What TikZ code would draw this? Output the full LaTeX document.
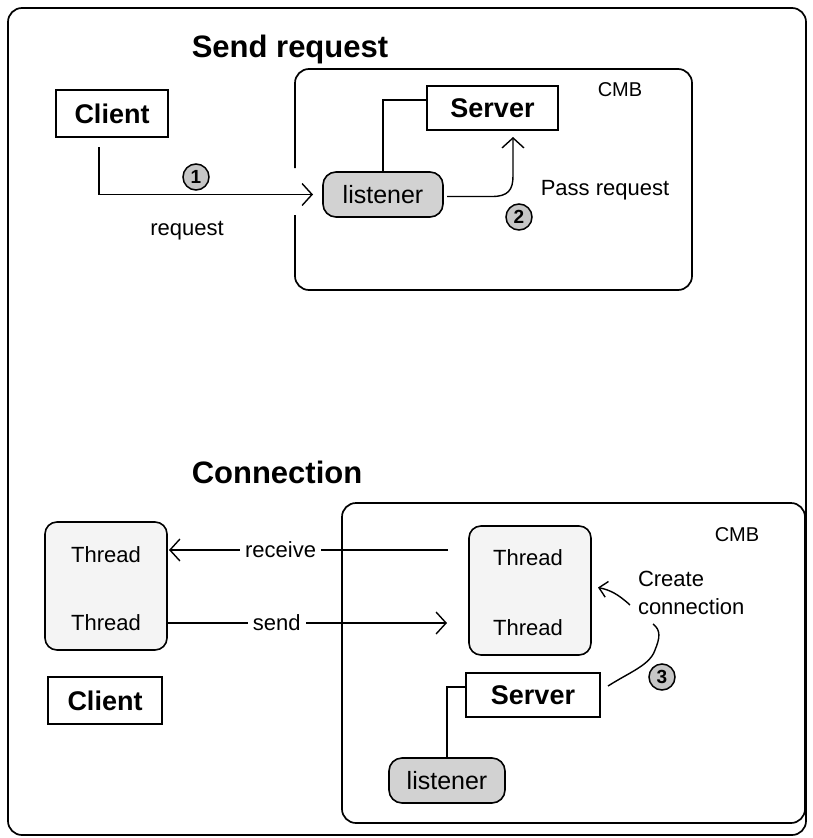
\documentclass[tikz,border=0pt]{standalone}
\usepackage{fontspec}
\setmainfont{Liberation Sans}
\usetikzlibrary{arrows.meta,calc}

\begin{document}
\begin{tikzpicture}[x=1pt,y=-1pt,
  every node/.style={inner sep=0pt, outer sep=0pt},
  frame/.style={line width=1.7pt, rounded corners=14pt},
  ttl/.style={font=\fontsize{31}{36}\selectfont\bfseries},
  namebox/.style={draw, line width=1.6pt, fill=white, font=\fontsize{27}{30}\selectfont\bfseries},
  pill/.style={draw, line width=1.6pt, fill=gray!35, rounded corners=13pt, font=\fontsize{25}{28}\selectfont},
  threadbox/.style={draw, line width=1.6pt, fill=gray!9, rounded corners=12pt},
  lbl/.style={font=\fontsize{22}{28}\selectfont},
  small/.style={font=\fontsize{20}{24}\selectfont},
  badge/.style={circle, draw, line width=1.5pt, fill=gray!45, minimum size=26pt, font=\fontsize{19}{19}\selectfont\bfseries},
  link/.style={line width=1.4pt},
  arr/.style={line width=1.4pt, -{Straight Barb[length=10pt,width=22pt,line width=1.4pt]}},
  sarr/.style={line width=1.4pt, -{Straight Barb[length=8pt,width=16pt,line width=1.4pt]}}
]
\useasboundingbox (0,0) rectangle (813,838);

% outer frame
\draw[frame] (8,8) rectangle (806,835);

% ---------- Send request ----------
\node[ttl, anchor=base] (t1) at (290,57) {Send request};

% CMB container, open on the left where the request enters
\draw[frame] (295,215) -- (295,290) -- (692,290) -- (692,69) -- (295,69) -- (295,168);
\node[small] (cmb1) at (620,90) {CMB};

\node[namebox, minimum width=112pt, minimum height=47pt] (client1) at (112,113.5) {Client};
\node[namebox, minimum width=131pt, minimum height=44pt] (server1) at (492.5,108) {Server};
\node[pill, minimum width=120pt, minimum height=45pt] (lis1) at (383,194.5) {listener};

\node[lbl] (req) at (187,231) {request};
\node[lbl] (pass) at (605,190) {Pass request};
\node[badge] (b1) at (196,177) {1};
\node[badge] (b2) at (519,217) {2};

\draw[link] ([yshift=8pt]server1.west) -| (lis1.north);
\draw[arr] ([xshift=-13pt,yshift=-10pt]client1.south) |- ([xshift=-10pt]lis1.west);
\draw[arr] ($(lis1.east)+(4,2)$) -- (492,196.5)
  .. controls (508,196.5) and (513,190) .. (513,176)
  -- ($(server1.south)+(20.5,7)$);

% ---------- Connection ----------
\node[ttl, anchor=base] (t2) at (277,483) {Connection};

\draw[frame] (342,503) rectangle (805,823);
\node[small] (cmb2) at (737,535) {CMB};

\node[threadbox, minimum width=122pt, minimum height=128pt] (thL) at (106,586) {};
\node[lbl] (thL1) at (106,555) {Thread};
\node[lbl] (thL2) at (106,623) {Thread};
\node[namebox, minimum width=114pt, minimum height=47pt] (client2) at (105,700.5) {Client};

\node[threadbox, minimum width=122pt, minimum height=129pt] (thR) at (530,590.5) {};
\node[lbl] (thR1) at (528,558) {Thread};
\node[lbl] (thR2) at (528,628) {Thread};

\node[namebox, minimum width=134pt, minimum height=44pt] (server2) at (533,695) {Server};
\node[pill, minimum width=116pt, minimum height=45pt] (lis2) at (447,780.5) {listener};

\node[lbl, align=left, anchor=west] (cc) at (638,593) {Create\\connection};
\node[badge] (b3) at (662,677) {3};

\coordinate (rcv) at (0,550);
\coordinate (snd) at (0,623);
\coordinate (ccfoot) at (653,624);

\draw[arr] ([xshift=-21pt]thR.west |- rcv) --
  node[pos=0.6, lbl, fill=white, inner xsep=5pt, inner ysep=2pt] {receive}
  ([xshift=2pt]thL.east |- rcv);
\draw[arr] ([xshift=1pt]thL.east |- snd) --
  node[pos=0.39, lbl, fill=white, inner xsep=5pt, inner ysep=2pt] {send}
  ([xshift=-22pt]thR.west |- snd);

\draw[sarr] ($(cc.west)+(-8,12)$) .. controls (618,594) and (610,590) .. ($(thR.east)+(7,-3)$);
\draw[link] ($(server2.east)+(8,-9)$) .. controls (630,672) and (650,665) .. (655,650)
  .. controls (660,638) and (661,630) .. (ccfoot);

\draw[link] ([yshift=8pt]server2.west) -| (lis2.north);
\end{tikzpicture}
\end{document}
